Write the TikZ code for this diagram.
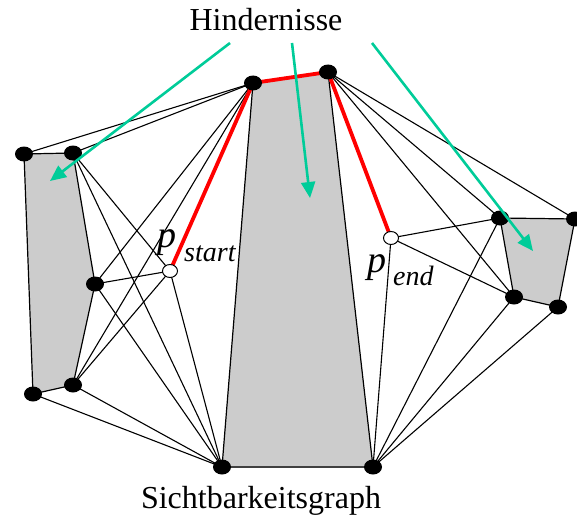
\documentclass[tikz,border=0pt]{standalone}
\usepackage{fontspec}
\setmainfont{Liberation Serif}
\usetikzlibrary{arrows.meta,shapes.geometric}
\pgfdeclarelayer{bg}
\pgfsetlayers{bg,main}
\definecolor{obst}{RGB}{204,204,204}
\definecolor{arrowgreen}{RGB}{0,204,153}
\tikzset{
  vtx/.style={ellipse, fill=black, inner sep=0pt, minimum width=18pt, minimum height=15pt},
  endpt/.style={ellipse, draw=black, fill=white, line width=1pt, inner sep=0pt, minimum width=15pt, minimum height=13pt},
  obstacle/.style={fill=obst, draw=black, line width=1.2pt, line join=round},
  vis/.style={draw=black, line width=1.1pt},
  path/.style={draw=red, line width=3.8pt},
  hint/.style={draw=arrowgreen, line width=2.6pt, -{Triangle[length=16pt,width=14pt]}},
  bigtext/.style={font=\fontsize{32}{38}\selectfont, inner sep=0pt},
  plabel/.style={font=\fontsize{38}{44}\selectfont\itshape, inner sep=0pt, anchor=base west},
  sublabel/.style={font=\fontsize{28}{32}\selectfont\itshape, inner sep=0pt, anchor=base west}
}
\begin{document}
\begin{tikzpicture}[x=1pt, y=-1pt]
\useasboundingbox (0,0) rectangle (577,516);
% vertices
\node[vtx] (L1) at (24,154) {};
\node[vtx] (L2) at (73,153) {};
\node[vtx] (L3) at (95,284) {};
\node[vtx] (L4) at (73,385) {};
\node[vtx] (L5) at (33,394) {};
\node[vtx] (C1) at (253,83) {};
\node[vtx] (C2) at (328,72) {};
\node[vtx] (C3) at (373,467) {};
\node[vtx] (C4) at (222,467) {};
\node[vtx] (R1) at (500,218) {};
\node[vtx] (R2) at (575,219) {};
\node[vtx] (R3) at (558,307) {};
\node[vtx] (R4) at (514,297) {};
\node[endpt] (S) at (170,271) {};
\node[endpt] (E) at (391,238) {};
\begin{pgfonlayer}{bg}
  \path[obstacle] (L1.center) -- (L2.center) -- (L3.center) -- (L4.center) -- (L5.center) -- cycle;
  \path[obstacle] (C1.center) -- (C2.center) -- (C3.center) -- (C4.center) -- cycle;
  \path[obstacle] (R1.center) -- (R2.center) -- (R3.center) -- (R4.center) -- cycle;
  \draw[black!75, line width=2pt] (C4.center) -- (C3.center);
  % visibility edges
  \foreach \a/\b in {L1/C1, L2/C1, L3/C1, L4/C1,
                     L2/S, L3/S, L4/S, S/C4,
                     L2/C4, L3/C4, L4/C4, L5/C4,
                     C2/R1, C2/R2, C2/R4,
                     E/R1, E/R4, E/C3,
                     R1/C3, R4/C3, R3/C3}
    \path[vis] (\a.center) -- (\b.center);
  % shortest path
  \path[path, line join=round] (S.center) -- (C1.center) -- (C2.center) -- (E.center);
\end{pgfonlayer}
% labels
\node[bigtext, anchor=base] (title) at (266,31) {Hindernisse};
\node[bigtext, anchor=base] (caption) at (261,508) {Sichtbarkeitsgraph};
\node[plabel] (ps) at (157,247) {p};
\node[sublabel] (pss) at (184,261) {start};
\node[plabel] (pe) at (367,272) {p};
\node[sublabel] (pes) at (393,285) {end};
% arrows
\coordinate (h1) at (230,43);
\coordinate (h2) at (292,43);
\coordinate (h3) at (372,43);
\coordinate (t1) at (50,181);
\coordinate (t2) at (310,198);
\coordinate (t3) at (533,251);
\draw[hint] (h1) -- (t1);
\draw[hint] (h2) -- (t2);
\draw[hint] (h3) -- (t3);
\end{tikzpicture}
\end{document}
